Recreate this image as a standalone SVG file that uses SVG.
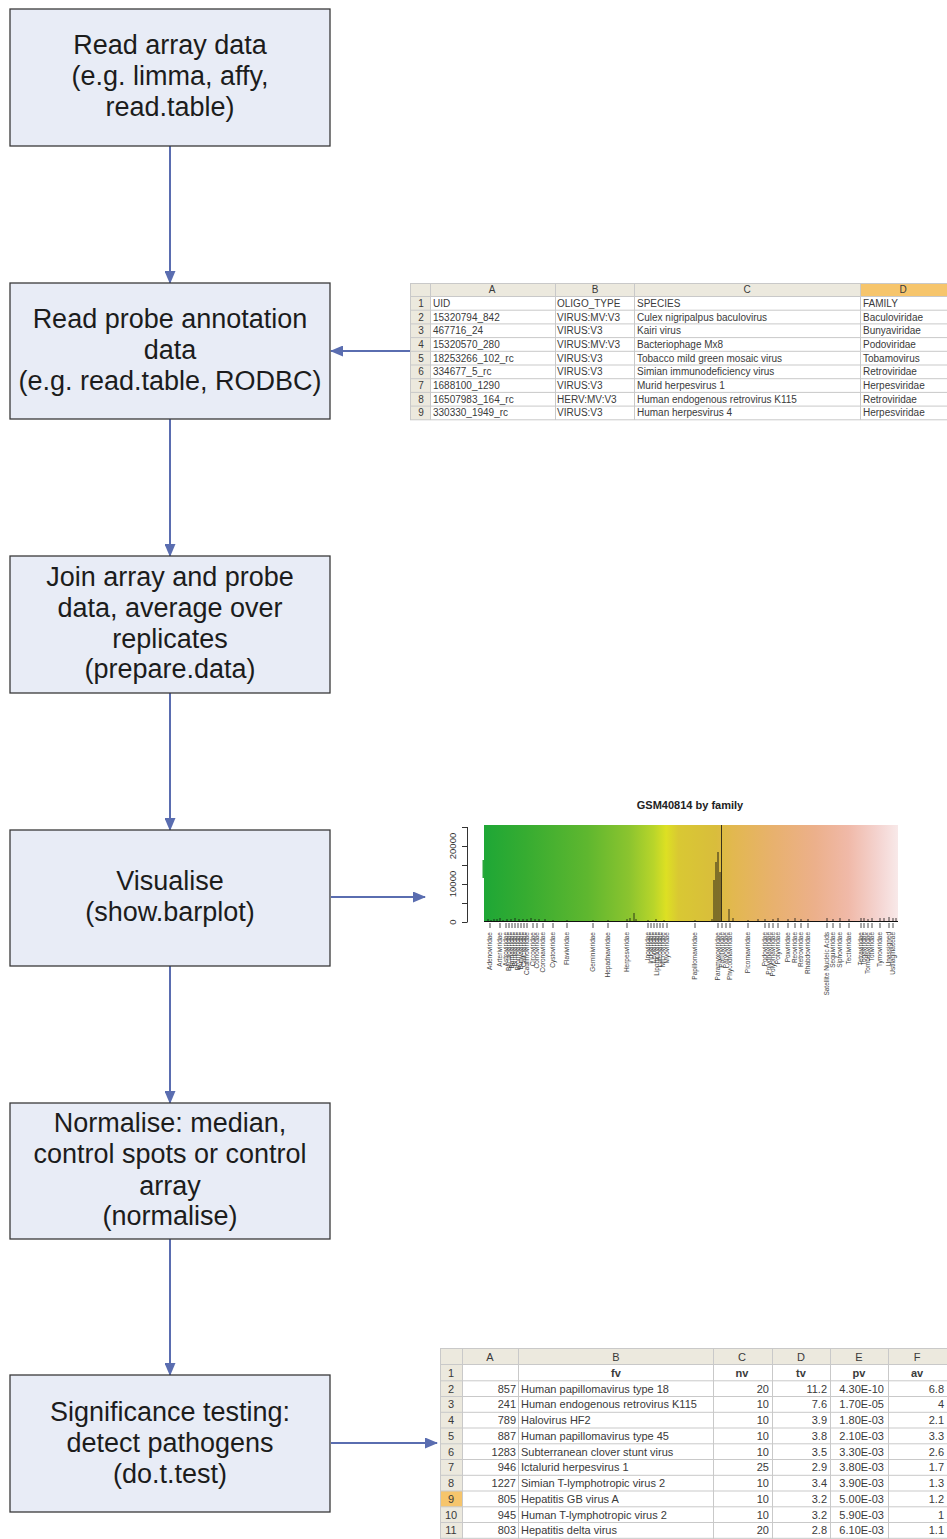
<svg xmlns="http://www.w3.org/2000/svg" width="947" height="1539" viewBox="0 0 947 1539">
  <style>
    .box { fill: #e8ecf6; stroke: #3a3a3a; stroke-width: 1.3; }
    .lbl { font-family: "Liberation Sans", Arial, sans-serif; font-size: 27px; fill: #1c1c1c; text-anchor: middle; }
    .conn { stroke: #5a6db0; stroke-width: 2; fill: none; }
    .hdr { fill: #ece9de; }
    .sel { fill: #f6c56c; }
    .grid { stroke: #c9c9c9; stroke-width: 1; fill: none; }
    .t1 { font-family: "Liberation Sans", Arial, sans-serif; font-size: 10px; fill: #3a3a3a; }
    .t2 { font-family: "Liberation Sans", Arial, sans-serif; font-size: 11px; fill: #3a3a3a; }
    .c { text-anchor: middle; }
    .r { text-anchor: end; }
    .b { font-weight: bold; }
    .ax { font-family: "Liberation Sans", Arial, sans-serif; font-size: 9.5px; fill: #333; text-anchor: middle; }
    .fam { font-family: "Liberation Sans", Arial, sans-serif; font-size: 6.5px; fill: #444; text-anchor: end; }
  </style>
  <defs>
    <marker id="arrow" markerUnits="userSpaceOnUse" markerWidth="13" markerHeight="11" refX="12" refY="5.5" orient="auto">
      <path d="M0,0 L13,5.5 L0,11 z" fill="#5a6db0"/>
    </marker>
    <linearGradient id="famGrad" x1="484" y1="0" x2="898" y2="0" gradientUnits="userSpaceOnUse">
      <stop offset="0" stop-color="#1ea736"/>
      <stop offset="0.1" stop-color="#36ac31"/>
      <stop offset="0.25" stop-color="#5fb72f"/>
      <stop offset="0.35" stop-color="#8bc42f"/>
      <stop offset="0.41" stop-color="#b9d52a"/>
      <stop offset="0.44" stop-color="#dde023"/>
      <stop offset="0.47" stop-color="#d9c833"/>
      <stop offset="0.56" stop-color="#d9bd3c"/>
      <stop offset="0.6" stop-color="#e2b84f"/>
      <stop offset="0.7" stop-color="#e8b16e"/>
      <stop offset="0.8" stop-color="#ecb08b"/>
      <stop offset="0.88" stop-color="#f0b9a8"/>
      <stop offset="0.95" stop-color="#f4d3cf"/>
      <stop offset="1" stop-color="#f8e9e9"/>
    </linearGradient>
  </defs>

  <rect width="947" height="1539" fill="#ffffff"/>

  <!-- connectors -->
  <g id="connectors">
    <line class="conn" x1="170" y1="146" x2="170" y2="283" marker-end="url(#arrow)"/>
    <line class="conn" x1="170" y1="419" x2="170" y2="556" marker-end="url(#arrow)"/>
    <line class="conn" x1="170" y1="693" x2="170" y2="830" marker-end="url(#arrow)"/>
    <line class="conn" x1="170" y1="966" x2="170" y2="1103" marker-end="url(#arrow)"/>
    <line class="conn" x1="170" y1="1239" x2="170" y2="1375" marker-end="url(#arrow)"/>
    <line class="conn" x1="410" y1="351" x2="331" y2="351" marker-end="url(#arrow)"/>
    <line class="conn" x1="331" y1="897" x2="425" y2="897" marker-end="url(#arrow)"/>
    <line class="conn" x1="331" y1="1443" x2="437" y2="1443" marker-end="url(#arrow)"/>
  </g>

  <!-- workflow steps -->
  <g id="step-read-array">
    <rect class="box" x="10" y="9" width="320" height="137"/>
    <text class="lbl" x="170" y="54">Read array data</text>
    <text class="lbl" x="170" y="85">(e.g. limma, affy,</text>
    <text class="lbl" x="170" y="116">read.table)</text>
  </g>
  <g id="step-read-probe">
    <rect class="box" x="10" y="283" width="320" height="136"/>
    <text class="lbl" x="170" y="328">Read probe annotation</text>
    <text class="lbl" x="170" y="359">data</text>
    <text class="lbl" x="170" y="390">(e.g. read.table, RODBC)</text>
  </g>
  <g id="step-join">
    <rect class="box" x="10" y="556" width="320" height="137"/>
    <text class="lbl" x="170" y="586">Join array and probe</text>
    <text class="lbl" x="170" y="617">data, average over</text>
    <text class="lbl" x="170" y="648">replicates</text>
    <text class="lbl" x="170" y="678">(prepare.data)</text>
  </g>
  <g id="step-visualise">
    <rect class="box" x="10" y="830" width="320" height="136"/>
    <text class="lbl" x="170" y="890">Visualise</text>
    <text class="lbl" x="170" y="921">(show.barplot)</text>
  </g>
  <g id="step-normalise">
    <rect class="box" x="10" y="1103" width="320" height="136"/>
    <text class="lbl" x="170" y="1132">Normalise: median,</text>
    <text class="lbl" x="170" y="1163">control spots or control</text>
    <text class="lbl" x="170" y="1195">array</text>
    <text class="lbl" x="170" y="1225">(normalise)</text>
  </g>
  <g id="step-significance">
    <rect class="box" x="10" y="1375" width="320" height="137"/>
    <text class="lbl" x="170" y="1421">Significance testing:</text>
    <text class="lbl" x="170" y="1452">detect pathogens</text>
    <text class="lbl" x="170" y="1483">(do.t.test)</text>
  </g>

  <!-- probe annotation spreadsheet -->
  <g id="probe-table">
    <rect x="410" y="283" width="537" height="137" fill="#ffffff"/>
    <rect class="hdr" x="410" y="283" width="537" height="13.5"/>
    <rect class="hdr" x="410" y="283" width="20" height="137"/>
    <rect class="sel" x="860" y="283" width="87" height="13.5"/>
    <path class="grid" d="M410,283.5 H947 M410,296.5 H947 M410,310.2 H947 M410,323.9 H947 M410,337.6 H947 M410,351.3 H947 M410,365 H947 M410,378.7 H947 M410,392.4 H947 M410,406.1 H947 M410,419.8 H947 M410.5,283 V420 M430.5,283 V420 M555.5,283 V420 M634.5,283 V420 M860.5,283 V420"/>
    <text class="t1 c" x="492" y="293">A</text>
    <text class="t1 c" x="595" y="293">B</text>
    <text class="t1 c" x="747" y="293">C</text>
    <text class="t1 c" x="903" y="293">D</text>
    <g class="t1 c">
      <text x="421" y="307">1</text><text x="421" y="320.5">2</text><text x="421" y="334.2">3</text>
      <text x="421" y="348">4</text><text x="421" y="361.6">5</text><text x="421" y="375.3">6</text>
      <text x="421" y="389">7</text><text x="421" y="402.7">8</text><text x="421" y="416.4">9</text>
    </g>
    <g class="t1">
      <text x="433" y="307">UID</text><text x="557" y="307">OLIGO_TYPE</text><text x="637" y="307">SPECIES</text><text x="863" y="307">FAMILY</text>
      <text x="433" y="320.5">15320794_842</text><text x="557" y="320.5">VIRUS:MV:V3</text><text x="637" y="320.5">Culex nigripalpus baculovirus</text><text x="863" y="320.5">Baculoviridae</text>
      <text x="433" y="334.2">467716_24</text><text x="557" y="334.2">VIRUS:V3</text><text x="637" y="334.2">Kairi virus</text><text x="863" y="334.2">Bunyaviridae</text>
      <text x="433" y="348">15320570_280</text><text x="557" y="348">VIRUS:MV:V3</text><text x="637" y="348">Bacteriophage Mx8</text><text x="863" y="348">Podoviridae</text>
      <text x="433" y="361.6">18253266_102_rc</text><text x="557" y="361.6">VIRUS:V3</text><text x="637" y="361.6">Tobacco mild green mosaic virus</text><text x="863" y="361.6">Tobamovirus</text>
      <text x="433" y="375.3">334677_5_rc</text><text x="557" y="375.3">VIRUS:V3</text><text x="637" y="375.3">Simian immunodeficiency virus</text><text x="863" y="375.3">Retroviridae</text>
      <text x="433" y="389">1688100_1290</text><text x="557" y="389">VIRUS:V3</text><text x="637" y="389">Murid herpesvirus 1</text><text x="863" y="389">Herpesviridae</text>
      <text x="433" y="402.7">16507983_164_rc</text><text x="557" y="402.7">HERV:MV:V3</text><text x="637" y="402.7">Human endogenous retrovirus K115</text><text x="863" y="402.7">Retroviridae</text>
      <text x="433" y="416.4">330330_1949_rc</text><text x="557" y="416.4">VIRUS:V3</text><text x="637" y="416.4">Human herpesvirus 4</text><text x="863" y="416.4">Herpesviridae</text>
    </g>
  </g>

  <!-- family barplot -->
  <g id="family-barplot">
    <text x="690" y="809" font-family="Liberation Sans, Arial, sans-serif" font-size="11" font-weight="bold" fill="#222" text-anchor="middle">GSM40814 by family</text>
    <rect x="484" y="825" width="414" height="97" fill="url(#famGrad)"/>
    <rect x="482.5" y="860" width="2" height="18" fill="#2aa83a"/>
    <!-- y axis -->
    <path d="M467.5,827 V922 M462,827.5 H467.5 M462,846.5 H467.5 M462,865.5 H467.5 M462,884.5 H467.5 M462,903.5 H467.5 M462,922.5 H467.5" stroke="#333" stroke-width="1" fill="none"/>
    <text class="ax" transform="translate(456,922) rotate(-90)">0</text>
    <text class="ax" transform="translate(456,884) rotate(-90)">10000</text>
    <text class="ax" transform="translate(456,846) rotate(-90)">20000</text>
    <!-- bars -->
    <path d="M484,921.5 H898" stroke="#111" stroke-width="1.2"/>
    <path stroke="#111" stroke-width="0.8" fill="none" d="M488,922 V919 M491,922 V920 M494,922 V919 M497,922 V919 M500,922 V918 M503,922 V920 M507,922 V919 M511,922 V919 M515,922 V918 M519,922 V919 M523,922 V919 M527,922 V919 M531,922 V918 M535,922 V919 M539,922 V919 M545,922 V919 M553,922 V920 M567,922 V920 M593,922 V920 M608,922 V920 M627,922 V919 M630,922 V918 M634,922 V913 M636,922 V919 M648,922 V920 M656,922 V919 M664,922 V920 M695,922 V920 M712,922 V919 M729,922 V909 M733,922 V918 M748,922 V920 M758,922 V919 M765,922 V919 M773,922 V919 M778,922 V918 M788,922 V919 M795,922 V918 M801,922 V919 M808,922 V919 M827,922 V918 M833,922 V919 M840,922 V918 M849,922 V919 M861,922 V918 M864,922 V918 M868,922 V919 M872,922 V918 M880,922 V918 M884,922 V918 M889,922 V917 M893,922 V918 M896,922 V918"/>
    <path stroke="#111" stroke-width="0.9" fill="none" d="M714,922 V880 M716,922 V862 M718,922 V852 M720,922 V872"/>
    <path stroke="#111" stroke-width="0.8" fill="none" d="M721.5,922 V825"/>
    <!-- family ticks and labels -->
    <path stroke="#222" stroke-width="0.8" fill="none" d="M490,923 V928 M500,923 V928 M506,923 V928 M509,923 V928 M512,923 V928 M515,923 V928 M518,923 V928 M521,923 V928 M524,923 V928 M527,923 V928 M533,923 V928 M537,923 V928 M543,923 V928 M553,923 V928 M567,923 V928 M593,923 V928 M608,923 V928 M627,923 V928 M648,923 V928 M651,923 V928 M654,923 V928 M657,923 V928 M660,923 V928 M663,923 V928 M667,923 V928 M695,923 V928 M718,923 V928 M722,923 V928 M726,923 V928 M730,923 V928 M748,923 V928 M765,923 V928 M769,923 V928 M773,923 V928 M778,923 V928 M788,923 V928 M795,923 V928 M801,923 V928 M808,923 V928 M827,923 V928 M833,923 V928 M840,923 V928 M849,923 V928 M861,923 V928 M864,923 V928 M868,923 V928 M872,923 V928 M880,923 V928 M889,923 V928 M893,923 V928"/>
    <g class="fam">
      <text transform="translate(492,932) rotate(-90)">Adenoviridae</text>
      <text transform="translate(502,932) rotate(-90)">Arteriviridae</text>
      <text transform="translate(508,932) rotate(-90)">Astroviridae</text>
      <text transform="translate(511,932) rotate(-90)">Baculoviridae</text>
      <text transform="translate(514,932) rotate(-90)">Barnaviridae</text>
      <text transform="translate(517,932) rotate(-90)">Birnaviridae</text>
      <text transform="translate(520,932) rotate(-90)">Bromoviridae</text>
      <text transform="translate(523,932) rotate(-90)">Bunyaviridae</text>
      <text transform="translate(526,932) rotate(-90)">Caliciviridae</text>
      <text transform="translate(529,932) rotate(-90)">Caulimoviridae</text>
      <text transform="translate(535,932) rotate(-90)">Circoviridae</text>
      <text transform="translate(539,932) rotate(-90)">Comoviridae</text>
      <text transform="translate(545,932) rotate(-90)">Coronaviridae</text>
      <text transform="translate(555,932) rotate(-90)">Cystoviridae</text>
      <text transform="translate(569,932) rotate(-90)">Flaviviridae</text>
      <text transform="translate(595,932) rotate(-90)">Geminiviridae</text>
      <text transform="translate(610,932) rotate(-90)">Hepadnaviridae</text>
      <text transform="translate(629,932) rotate(-90)">Herpesviridae</text>
      <text transform="translate(650,932) rotate(-90)">Inoviridae</text>
      <text transform="translate(653,932) rotate(-90)">Iridoviridae</text>
      <text transform="translate(656,932) rotate(-90)">Leviviridae</text>
      <text transform="translate(659,932) rotate(-90)">Lipothrixviridae</text>
      <text transform="translate(662,932) rotate(-90)">Luteoviridae</text>
      <text transform="translate(665,932) rotate(-90)">Microviridae</text>
      <text transform="translate(669,932) rotate(-90)">Myoviridae</text>
      <text transform="translate(697,932) rotate(-90)">Papillomaviridae</text>
      <text transform="translate(720,932) rotate(-90)">Paramyxoviridae</text>
      <text transform="translate(724,932) rotate(-90)">Partitiviridae</text>
      <text transform="translate(728,932) rotate(-90)">Parvoviridae</text>
      <text transform="translate(732,932) rotate(-90)">Phycodnaviridae</text>
      <text transform="translate(750,932) rotate(-90)">Picornaviridae</text>
      <text transform="translate(767,932) rotate(-90)">Podoviridae</text>
      <text transform="translate(771,932) rotate(-90)">Polydnaviridae</text>
      <text transform="translate(775,932) rotate(-90)">Polyomaviridae</text>
      <text transform="translate(780,932) rotate(-90)">Potyviridae</text>
      <text transform="translate(790,932) rotate(-90)">Poxviridae</text>
      <text transform="translate(797,932) rotate(-90)">Reoviridae</text>
      <text transform="translate(803,932) rotate(-90)">Retroviridae</text>
      <text transform="translate(810,932) rotate(-90)">Rhabdoviridae</text>
      <text transform="translate(829,932) rotate(-90)">Satellite Nucleic Acids</text>
      <text transform="translate(835,932) rotate(-90)">Sequiviridae</text>
      <text transform="translate(842,932) rotate(-90)">Siphoviridae</text>
      <text transform="translate(851,932) rotate(-90)">Tectiviridae</text>
      <text transform="translate(863,932) rotate(-90)">Tetraviridae</text>
      <text transform="translate(866,932) rotate(-90)">Togaviridae</text>
      <text transform="translate(870,932) rotate(-90)">Tombusviridae</text>
      <text transform="translate(874,932) rotate(-90)">Totiviridae</text>
      <text transform="translate(882,932) rotate(-90)">Tymoviridae</text>
      <text transform="translate(891,932) rotate(-90)">Unassigned</text>
      <text transform="translate(895,932) rotate(-90)">Ustilaginaceae</text>
    </g>
  </g>

  <!-- t-test results spreadsheet -->
  <g id="result-table">
    <rect x="440" y="1348" width="507" height="191" fill="#ffffff"/>
    <rect class="hdr" x="440" y="1348" width="507" height="16.5"/>
    <rect class="hdr" x="440" y="1348" width="22" height="191"/>
    <rect class="sel" x="440" y="1491" width="22" height="15.8"/>
    <path class="grid" d="M440,1348.5 H947 M440,1364.5 H947 M440,1380.8 H947 M440,1396.5 H947 M440,1412.3 H947 M440,1428 H947 M440,1443.8 H947 M440,1459.5 H947 M440,1475.3 H947 M440,1491 H947 M440,1506.8 H947 M440,1522.5 H947 M440,1538.3 H947 M440.5,1348 V1539 M462.5,1348 V1539 M518.5,1348 V1539 M713.5,1348 V1539 M772.5,1348 V1539 M830.5,1348 V1539 M888.5,1348 V1539"/>
    <g class="t2 c">
      <text x="490" y="1360.5">A</text><text x="616" y="1360.5">B</text><text x="742" y="1360.5">C</text>
      <text x="801" y="1360.5">D</text><text x="859" y="1360.5">E</text><text x="917" y="1360.5">F</text>
      <text x="451" y="1376.5">1</text><text x="451" y="1392.5">2</text><text x="451" y="1408.3">3</text>
      <text x="451" y="1424">4</text><text x="451" y="1439.8">5</text><text x="451" y="1455.5">6</text>
      <text x="451" y="1471.3">7</text><text x="451" y="1487">8</text><text x="451" y="1502.8">9</text>
      <text x="451" y="1518.5">10</text><text x="451" y="1534.3">11</text>
    </g>
    <g class="t2 c b" font-size="9.5">
      <text x="616" y="1376.5">fv</text><text x="742" y="1376.5">nv</text><text x="801" y="1376.5">tv</text>
      <text x="859" y="1376.5">pv</text><text x="917" y="1376.5">av</text>
    </g>
    <g class="t2 r">
      <text x="516" y="1392.5">857</text><text x="516" y="1408.3">241</text><text x="516" y="1424">789</text>
      <text x="516" y="1439.8">887</text><text x="516" y="1455.5">1283</text><text x="516" y="1471.3">946</text>
      <text x="516" y="1487">1227</text><text x="516" y="1502.8">805</text><text x="516" y="1518.5">945</text>
      <text x="516" y="1534.3">803</text>
      <text x="769" y="1392.5">20</text><text x="769" y="1408.3">10</text><text x="769" y="1424">10</text>
      <text x="769" y="1439.8">10</text><text x="769" y="1455.5">10</text><text x="769" y="1471.3">25</text>
      <text x="769" y="1487">10</text><text x="769" y="1502.8">10</text><text x="769" y="1518.5">10</text>
      <text x="769" y="1534.3">20</text>
      <text x="827" y="1392.5">11.2</text><text x="827" y="1408.3">7.6</text><text x="827" y="1424">3.9</text>
      <text x="827" y="1439.8">3.8</text><text x="827" y="1455.5">3.5</text><text x="827" y="1471.3">2.9</text>
      <text x="827" y="1487">3.4</text><text x="827" y="1502.8">3.2</text><text x="827" y="1518.5">3.2</text>
      <text x="827" y="1534.3">2.8</text>
      <text x="884" y="1392.5">4.30E-10</text><text x="884" y="1408.3">1.70E-05</text><text x="884" y="1424">1.80E-03</text>
      <text x="884" y="1439.8">2.10E-03</text><text x="884" y="1455.5">3.30E-03</text><text x="884" y="1471.3">3.80E-03</text>
      <text x="884" y="1487">3.90E-03</text><text x="884" y="1502.8">5.00E-03</text><text x="884" y="1518.5">5.90E-03</text>
      <text x="884" y="1534.3">6.10E-03</text>
      <text x="944" y="1392.5">6.8</text><text x="944" y="1408.3">4</text><text x="944" y="1424">2.1</text>
      <text x="944" y="1439.8">3.3</text><text x="944" y="1455.5">2.6</text><text x="944" y="1471.3">1.7</text>
      <text x="944" y="1487">1.3</text><text x="944" y="1502.8">1.2</text><text x="944" y="1518.5">1</text>
      <text x="944" y="1534.3">1.1</text>
    </g>
    <g class="t2">
      <text x="521" y="1392.5">Human papillomavirus type 18</text>
      <text x="521" y="1408.3">Human endogenous retrovirus K115</text>
      <text x="521" y="1424">Halovirus HF2</text>
      <text x="521" y="1439.8">Human papillomavirus type 45</text>
      <text x="521" y="1455.5">Subterranean clover stunt virus</text>
      <text x="521" y="1471.3">Ictalurid herpesvirus 1</text>
      <text x="521" y="1487">Simian T-lymphotropic virus 2</text>
      <text x="521" y="1502.8">Hepatitis GB virus A</text>
      <text x="521" y="1518.5">Human T-lymphotropic virus 2</text>
      <text x="521" y="1534.3">Hepatitis delta virus</text>
    </g>
  </g>
</svg>
